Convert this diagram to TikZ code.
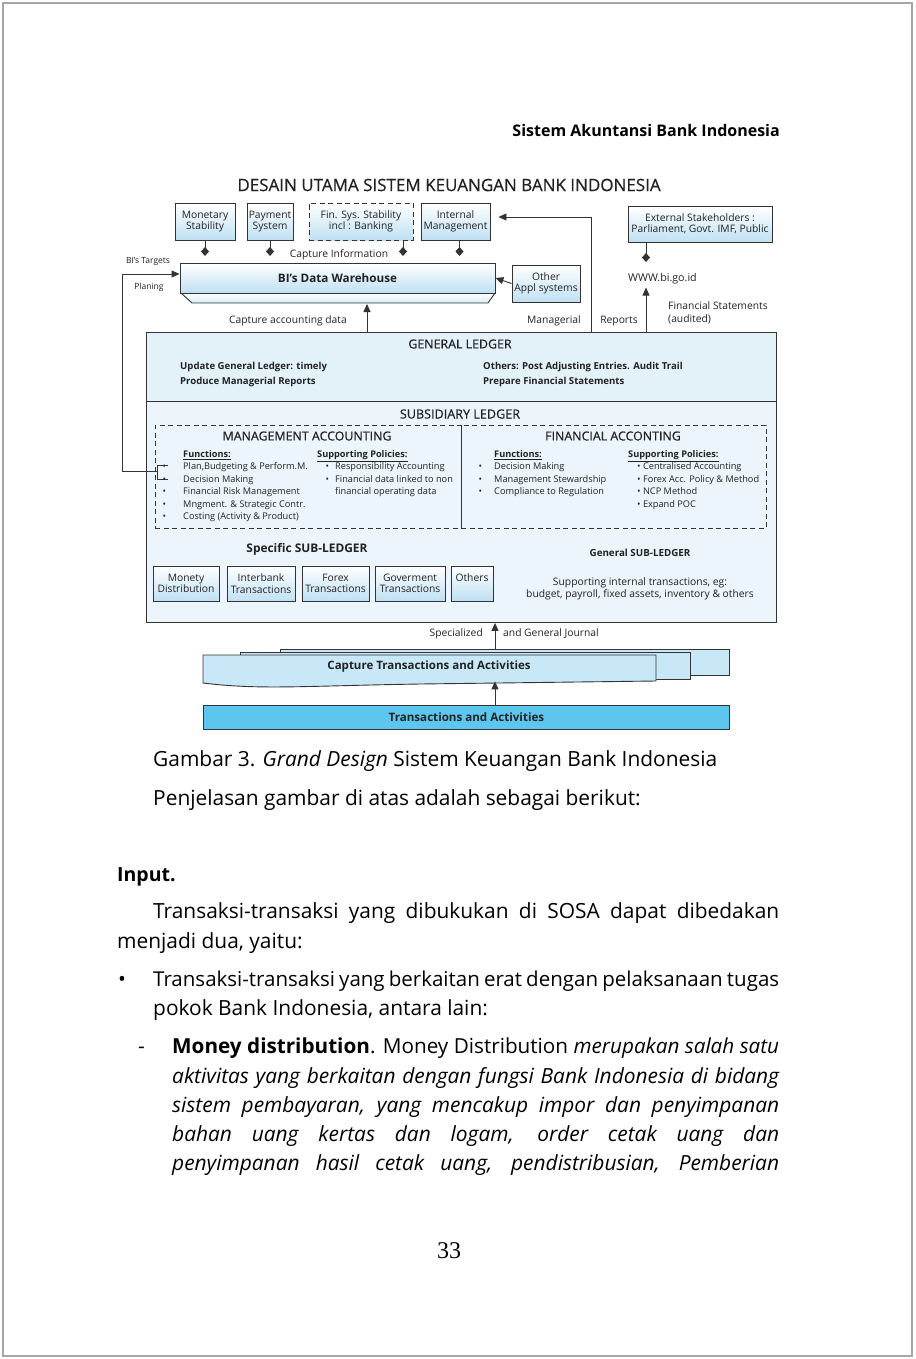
\documentclass[tikz,border=0pt]{standalone}
\usepackage{fontspec}
\setmainfont{Open Sans}
\newfontfamily\semib{Open Sans}[FakeBold=0.6]
\newfontfamily\numfont{Liberation Serif}
\usetikzlibrary{arrows.meta,calc,positioning}

\definecolor{linegray}{HTML}{333333}
\definecolor{txtgray}{HTML}{222222}
\definecolor{boxblue}{HTML}{BFE0F3}
\definecolor{ledgerblue}{HTML}{E3F1F9}
\definecolor{capblue}{HTML}{C9E8F7}
\definecolor{transblue}{HTML}{5CC6EE}

\newcommand{\fs}[2]{\fontsize{#1}{#2}\selectfont}

\begin{document}
\begin{tikzpicture}[x=1pt,y=-1pt,
    box/.style={draw=linegray,line width=0.9pt,top color=white,bottom color=boxblue,
        align=center,inner sep=0pt,text=txtgray,font=\fs{10.3}{11.3}},
    ledger/.style={draw=linegray,line width=0.9pt,fill=ledgerblue,inner sep=0pt},
    dbox/.style={draw=linegray,line width=0.8pt,dash pattern=on 5pt off 3.5pt,inner sep=0pt},
    lbl/.style={inner sep=0pt,text=txtgray,font=\fs{10.3}{13}},
    tiny/.style={inner sep=0pt,text=txtgray,font=\fs{8.5}{10}},
    head/.style={inner sep=0pt,text=txtgray,font=\semib\fs{12.4}{13}},
    small/.style={inner sep=0pt,text=txtgray,align=left,font=\fs{9.2}{12.5}},
    tip/.style={line width=0.9pt,draw=linegray,-{Triangle[length=8pt,width=7pt]}},
    dia/.style={line width=0.9pt,draw=linegray,-{Diamond[length=9pt,width=8pt]}},
    body/.style={inner sep=0pt,anchor=base west,font=\fs{20.9}{29}}]

% page
\useasboundingbox (0,0) rectangle (915,1359);
\draw[gray!70,line width=1.5pt] (3,3) rectangle (912,1356);
\node[anchor=base east,inner sep=0pt,font=\fs{16}{18}\bfseries] (head) at (780,137) {Sistem Akuntansi Bank Indonesia};

% title
\node[head,font=\semib\fs{17}{19}] (title) at (449,185) {DESAIN UTAMA SISTEM KEUANGAN BANK INDONESIA};

% top row
\node[box,minimum width=60pt,minimum height=37pt] (mon) at (205,221.5) {Monetary\\Stability};
\node[box,minimum width=46pt,minimum height=37pt] (pay) at (270,221.5) {Payment\\System};
\node[box,dbox,minimum width=104pt,minimum height=37pt] (fin) at (361,221.5) {Fin. Sys. Stability\\incl : Banking};
\node[box,minimum width=69pt,minimum height=37pt] (intm) at (455.5,221.5) {Internal\\Management};
\node[box,minimum width=144pt,minimum height=36pt] (ext) at (700,224) {External Stakeholders :\\Parliament, Govt. IMF, Public};

\coordinate (dm) at (0,256);
\draw[dia] (mon.south) -- (mon.south |- dm);
\draw[dia] (pay.south) -- (pay.south |- dm);
\draw[dia] ($(fin.south)+(42,0)$) -- ($(fin.south |- dm)+(42,0)$);
\draw[dia] ($(intm.south)+(4,0)$) -- ($(intm.south |- dm)+(4,0)$);
\node[lbl] (capinfo) at (339,255) {Capture Information};

% data warehouse
\draw[draw=linegray,line width=0.9pt,top color=white,bottom color=boxblue!60]
    (181,293) -- (192,303) -- (488,303) -- (495,293) -- cycle;
\node[box,minimum width=315pt,minimum height=30pt,font=\fs{11.7}{13}\bfseries] (dw) at (337.5,278) {BI's Data Warehouse};
\node[box,minimum width=68pt,minimum height=37pt] (other) at (546,283.5) {Other\\Appl systems};
\draw[tip] (other.west) -- (dw.east);
\node[tiny] (targets) at (148,261) {BI's Targets};
\node[tiny] (plan) at (149,287) {Planing};

% external
\coordinate (wx) at (646,262);
\draw[dia] (ext.south -| wx) -- (wx);
\node[lbl,anchor=west,font=\fs{10.7}{12}] (www) at (628,279) {WWW.bi.go.id};
\node[lbl,anchor=west,align=left] (finst) at (668,313) {Financial Statements\\(audited)};
\node[lbl] (manag) at (554,321) {Managerial};
\node[lbl] (reps) at (619,321) {Reports};
\node[lbl] (capacc) at (288,321) {Capture accounting data};

% ledgers
\node[ledger,anchor=north west,minimum width=630pt,minimum height=69pt] (gl) at (146,332) {};
\node[ledger,anchor=north west,minimum width=630pt,minimum height=221pt,fill=ledgerblue!70] (sl) at (146,401) {};

\draw[tip] (gl.north -| wx) -- ($(www.south -| wx)+(0,3)$);
\draw[tip] (gl.north -| 591,0) |- ($(intm.east)+(8,-4.5)$);
\draw[tip] (gl.north -| 367,0) -- (367,304);

\node[head] (gltitle) at (460,344) {GENERAL LEDGER};
\node[inner sep=0pt,text=txtgray,anchor=north west,align=left,font=\fs{9.6}{15}\bfseries] (glleft) at (180,362) {Update General Ledger: timely\\Produce Managerial Reports};
\node[inner sep=0pt,text=txtgray,anchor=north west,align=left,font=\fs{9.6}{15}\bfseries] (glright) at (483,362) {Others: Post Adjusting Entries. Audit Trail\\Prepare Financial Statements};

\node[head,font=\semib\fs{12.6}{13}] (sltitle) at (460,414) {SUBSIDIARY LEDGER};

% management / financial accounting
\node[dbox,anchor=north west,minimum width=306pt,minimum height=103pt] (ma) at (155,425) {};
\node[dbox,anchor=north west,minimum width=305pt,minimum height=103pt] (fa) at (461,425) {};
\node[head] (matitle) at (307,436) {MANAGEMENT ACCOUNTING};
\node[head] (fatitle) at (613,436) {FINANCIAL ACCONTING};

\node[small,anchor=north west] (mafun) at (183,450) {\underline{\textbf{Functions:}}\\
    \llap{•\hspace{17pt}}Plan,Budgeting \& Perform.M.\\
    \llap{•\hspace{17pt}}Decision Making\\
    \llap{•\hspace{17pt}}Financial Risk Management\\
    \llap{•\hspace{17pt}}Mngment. \& Strategic Contr.\\
    \llap{•\hspace{17pt}}Costing (Activity \& Product)};
\node[small,anchor=north west] (mapol) at (317,450) {\underline{\textbf{Supporting Policies:}}\\
    \hspace*{18pt}\llap{•\hspace{6pt}}Responsibility Accounting\\
    \hspace*{18pt}\llap{•\hspace{6pt}}Financial data linked to non\\
    \hspace*{18pt}financial operating data};
\node[small,anchor=north west] (fafun) at (494,450) {\underline{\textbf{Functions:}}\\
    \llap{•\hspace{12pt}}Decision Making\\
    \llap{•\hspace{12pt}}Management Stewardship\\
    \llap{•\hspace{12pt}}Compliance to Regulation};
\node[small,anchor=north west] (fapol) at (628,450) {\underline{\textbf{Supporting Policies:}}\\
    \hspace*{9pt}• Centralised Accounting\\
    \hspace*{9pt}• Forex Acc. Policy \& Method\\
    \hspace*{9pt}• NCP Method\\
    \hspace*{9pt}• Expand POC};

% feedback to warehouse
\coordinate (brk) at (157,471);
\draw[line width=0.9pt,draw=linegray] (168,465) -- (157,465) -- (157,479) -- (168,479);
\draw[tip] (brk) -| (122,274) -- (dw.west |- 0,274);

% sub-ledgers
\node[inner sep=0pt,text=txtgray,font=\fs{11.9}{13}\bfseries] (spec) at (307,549) {Specific SUB-LEDGER};
\node[box,minimum width=66pt,minimum height=35pt] (mdist) at (186,583.5) {Monety\\Distribution};
\node[box,minimum width=68pt,minimum height=35pt] (inter) at (261,583.5) {Interbank\\Transactions};
\node[box,minimum width=67pt,minimum height=35pt] (forex) at (335.5,583.5) {Forex\\Transactions};
\node[box,minimum width=70pt,minimum height=35pt] (gov) at (410,583.5) {Goverment\\Transactions};
\node[box,minimum width=42pt,minimum height=35pt] (oth) at (472,583.5) {Others\\\phantom{T}};
\node[inner sep=0pt,text=txtgray,font=\fs{9.8}{11}\bfseries] (gen) at (640,553) {General SUB-LEDGER};
\node[inner sep=0pt,text=txtgray,align=center,font=\fs{10.3}{11.5}] (gentxt) at (640,589) {Supporting internal transactions, eg:\\budget, payroll, fixed assets, inventory \& others};

% capture and transactions
\node[ledger,fill=capblue,anchor=north west,minimum width=449pt,minimum height=26pt] (capb) at (280,649) {};
\node[ledger,fill=capblue,anchor=north west,minimum width=450pt,minimum height=27pt] (capm) at (240,652) {};
\node[inner sep=0pt,anchor=north west,minimum width=453pt,minimum height=27pt] (capf) at (203,655) {};
\draw[draw=linegray,line width=0.9pt,fill=capblue] (203,655) -- (656,655) -- (656,681)
    -- (420,684) .. controls (300,686) and (260,690) .. (203,683) -- cycle;
\node[inner sep=0pt,text=txtgray,font=\fs{11.5}{12}\bfseries] (captxt) at (429,667) {Capture Transactions and Activities};
\node[ledger,fill=transblue,anchor=north west,minimum width=526pt,minimum height=24pt,
    font=\fs{11.6}{12}\bfseries,text=txtgray] (trans) at (203,705) {Transactions and Activities};

\coordinate (jx) at (495,640);
\draw[tip] (capb.north -| jx) -- (sl.south -| jx);
\draw[tip] (trans.north -| jx) -- ($(capf.south -| jx)+(0,-1)$);
\node[lbl,anchor=east] (spz) at (483,634) {Specialized};
\node[lbl,anchor=west] (gj) at (503,634) {and General Journal};

% text of the page
\node[body] (cap) at (153,766) {Gambar 3. \textit{Grand Design} Sistem Keuangan Bank Indonesia};
\node[body] (pen) at (153,805) {Penjelasan gambar di atas adalah sebagai berikut:};
\node[body,font=\fs{19.5}{29}\bfseries] (inp) at (117,881) {Input.};
\node[body] (l1) at (153,918) {\makebox[626pt][s]{Transaksi-transaksi yang dibukukan di SOSA dapat dibedakan}};
\node[body] (l2) at (117,948) {menjadi dua, yaitu:};
\node[body] (b1) at (118,986) {•};
\node[body,font=\fs{20.5}{29}] (l3) at (153,986) {\makebox[626pt][s]{Transaksi-transaksi yang berkaitan erat dengan pelaksanaan tugas}};
\node[body] (l4) at (153,1015) {pokok Bank Indonesia, antara lain:};
\node[body] (d1) at (138,1053) {-};
\node[body,font=\fs{20.7}{29}] (l5) at (172,1053) {\makebox[607pt][s]{\textbf{Money distribution}. Money Distribution \textit{merupakan salah satu}}};
\node[body,font=\fs{20.9}{29}\itshape] (l6) at (172,1083) {\makebox[607pt][s]{aktivitas yang berkaitan dengan fungsi Bank Indonesia di bidang}};
\node[body,font=\fs{20.9}{29}\itshape] (l7) at (172,1112) {\makebox[607pt][s]{sistem pembayaran, yang mencakup impor dan penyimpanan}};
\node[body,font=\fs{20.9}{29}\itshape] (l8) at (172,1141) {\makebox[607pt][s]{bahan uang kertas dan logam, order cetak uang dan}};
\node[body,font=\fs{20.9}{29}\itshape] (l9) at (172,1170) {\makebox[607pt][s]{penyimpanan hasil cetak uang, pendistribusian, Pemberian}};
\node[inner sep=0pt,font=\numfont\fs{24}{26}] (pg) at (449,1251) {33};
\end{tikzpicture}
\end{document}
